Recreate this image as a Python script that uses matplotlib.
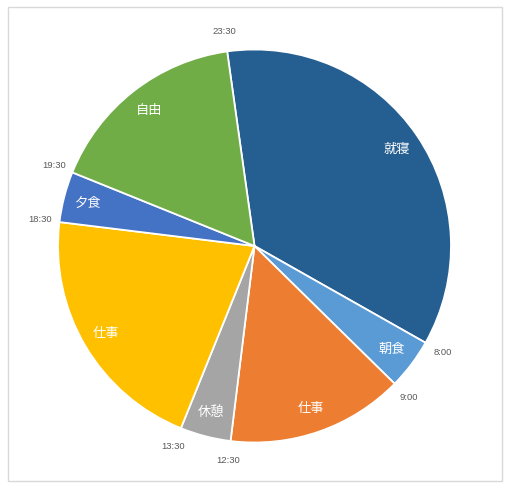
import numpy as np
import matplotlib
matplotlib.use("Agg")
import matplotlib.pyplot as plt
from matplotlib.patches import Rectangle

plt.rcParams['font.family'] = ['Noto Sans CJK JP', 'DejaVu Sans']

labels = ['就寝', '朝食', '仕事', '休憩', '仕事', '夕食', '自由']
hours = [8.5, 1, 3.5, 1, 5, 1, 4]
start_times = ['23:30', '8:00', '9:00', '12:30', '13:30', '18:30', '19:30']
colors = ['#255e91', '#5b9bd5', '#ed7d31', '#a5a5a5', '#ffc000', '#4472c4', '#70ad47']

W, H = 510, 488
fig = plt.figure(figsize=(W / 100, H / 100), dpi=100)
fig.patches.append(Rectangle((8 / W, 7 / H), 494 / W, 474 / H, transform=fig.transFigure,
                             fill=False, edgecolor='#d9d9d9', linewidth=1.0))

cx, cy, R = 254.5, 246, 196.5
ax = fig.add_axes([(cx - R) / W, (H - cy - R) / H, 2 * R / W, 2 * R / H])
start_angle = 90 + 8.0
wedges, _ = ax.pie(hours, colors=colors, startangle=start_angle, counterclock=False,
                   radius=1, wedgeprops=dict(edgecolor='white', linewidth=1.3))
ax.set_xlim(-1, 1)
ax.set_ylim(-1, 1)
ax.set_aspect('equal')
ax.axis('off')

total = sum(hours)
cum = 0
for lab, h, t in zip(labels, hours, start_times):
    a0 = np.deg2rad(start_angle - 360 * cum / total)
    amid = np.deg2rad(start_angle - 360 * (cum + h / 2) / total)
    ax.text(0.875 * np.cos(amid), 0.875 * np.sin(amid), lab, color='white', fontsize=9.5,
            ha='center', va='center')
    ax.text(1.1 * np.cos(a0), 1.1 * np.sin(a0), t, color='#595959', fontsize=6.8,
            ha='center', va='center', family=['Liberation Sans', 'DejaVu Sans'])
    cum += h

fig.savefig('out.png', dpi=100)
